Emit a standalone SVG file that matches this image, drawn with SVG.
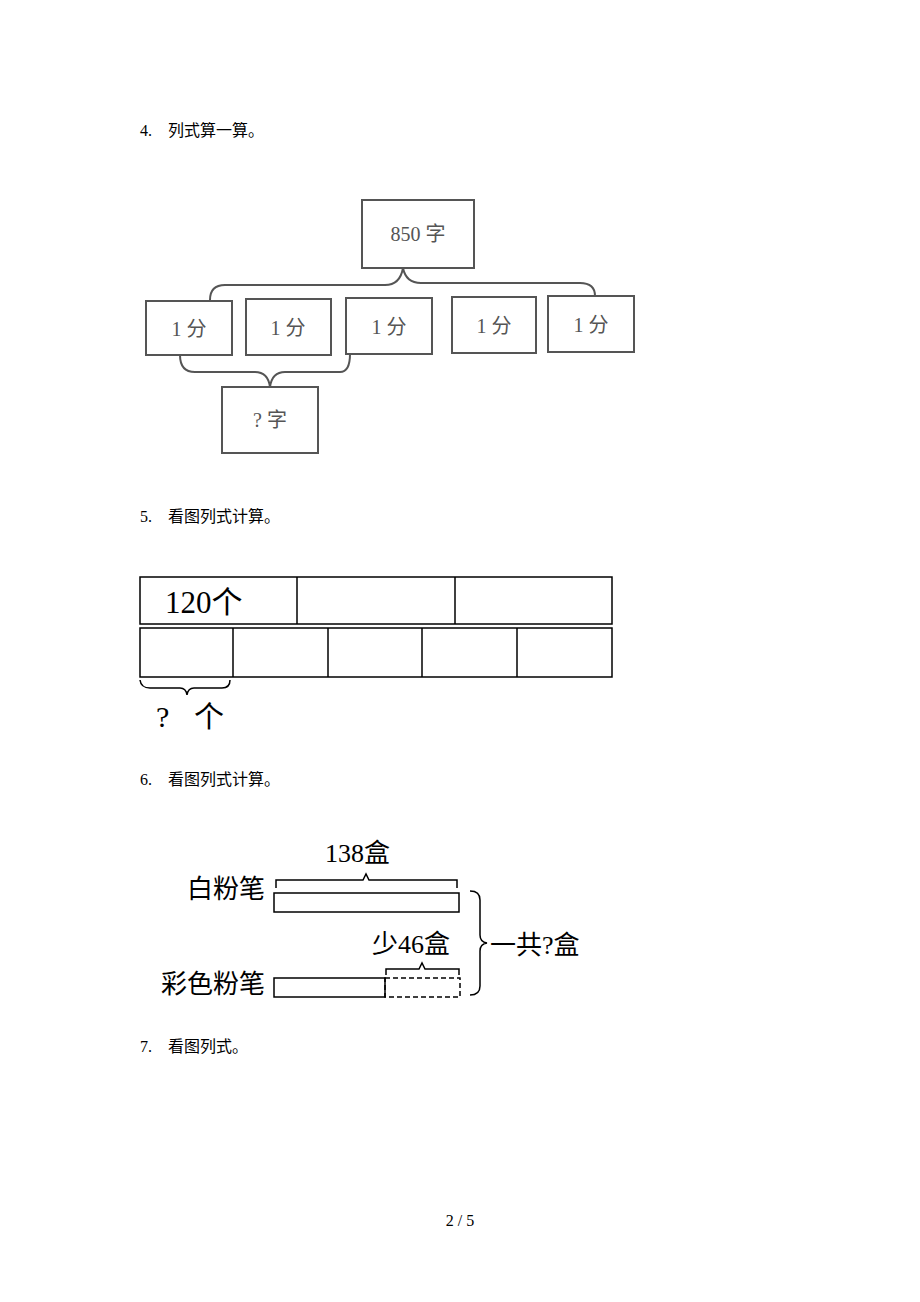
<svg xmlns="http://www.w3.org/2000/svg" width="920" height="1302" viewBox="0 0 920 1302">
<style>
.h{font-family:"Liberation Serif","Noto Sans CJK SC",serif;font-size:16px;fill:#000}
.b{fill:#fff;stroke:#555;stroke-width:2}
.t{font-family:"Liberation Serif","Noto Sans CJK SC",serif;font-size:20px;fill:#555;text-anchor:middle}
.k{fill:none;stroke:#000;stroke-width:1.5}
.g{fill:none;stroke:#555;stroke-width:2}
.s{font-family:"Liberation Serif","Noto Sans CJK SC",serif;fill:#000}
</style>
<rect width="920" height="1302" fill="#fff"/>
<text class="h" x="140" y="136">4.</text><text class="h" x="168" y="136">列式算一算。</text>
<text class="h" x="140" y="522">5.</text><text class="h" x="168" y="522">看图列式计算。</text>
<text class="h" x="140" y="785">6.</text><text class="h" x="168" y="785">看图列式计算。</text>
<text class="h" x="140" y="1052">7.</text><text class="h" x="168" y="1052">看图列式。</text>
<text class="h" x="460" y="1226" text-anchor="middle">2 / 5</text>
<g id="connectors">
<path class="g" d="M210,300 Q210,285 225,285 L385,285 Q400,285 403,268 Q406,283 421,283 L580,283 Q595,283 595,296"/>
<path class="g" d="M180,355 Q180,372 195,372 L255,372 Q268,372 270,387 Q272,372 285,372 L340,372 Q350,372 350,354"/>
</g>
<g id="n850"><rect class="b" x="362" y="200" width="112" height="68"/><text class="t" x="418" y="241">850 字</text></g>
<g id="f1"><rect class="b" x="146" y="301" width="86" height="54"/><text class="t" x="189" y="336">1 分</text></g>
<g id="f2"><rect class="b" x="246" y="299" width="85" height="56"/><text class="t" x="288" y="335">1 分</text></g>
<g id="f3"><rect class="b" x="346" y="298" width="86" height="56"/><text class="t" x="389" y="334">1 分</text></g>
<g id="f4"><rect class="b" x="452" y="297" width="84" height="56"/><text class="t" x="494" y="333">1 分</text></g>
<g id="f5"><rect class="b" x="548" y="296" width="86" height="56"/><text class="t" x="591" y="332">1 分</text></g>
<g id="q"><rect class="b" x="222" y="387" width="96" height="66"/><text class="t" x="270" y="427">? 字</text></g>
<g id="bars5">
<rect class="k" x="140" y="577" width="472" height="47" stroke-width="2"/>
<line class="k" x1="297" y1="577" x2="297" y2="624" stroke-width="2"/>
<line class="k" x1="455" y1="577" x2="455" y2="624" stroke-width="2"/>
<rect class="k" x="140" y="628" width="472" height="49" stroke-width="2"/>
<line class="k" x1="233" y1="628" x2="233" y2="677" stroke-width="2"/>
<line class="k" x1="328" y1="628" x2="328" y2="677" stroke-width="2"/>
<line class="k" x1="422" y1="628" x2="422" y2="677" stroke-width="2"/>
<line class="k" x1="517" y1="628" x2="517" y2="677" stroke-width="2"/>
<text class="s" x="165" y="613" font-size="31">120个</text>
<path class="k" d="M140,680 Q141,688 150,688 L180,688 Q186,688 187,695 Q188,688 194,688 L222,688 Q230,688 230,680"/>
<text class="s" x="156" y="727" font-size="30">?</text>
<text class="s" x="194" y="727" font-size="30">个</text>
</g>
<g id="bars6">
<text class="s" x="325" y="862" font-size="26">138盒</text>
<path class="k" d="M276,888 L276,880 L363,880 L366,874 L369,880 L457,880 L457,888"/>
<text class="s" x="265" y="898" font-size="26" text-anchor="end">白粉笔</text>
<rect class="k" x="274" y="893" width="185" height="19"/>
<text class="s" x="372" y="953" font-size="26">少46盒</text>
<path class="k" d="M386,975 L386,969 L419,969 L422,963 L425,969 L459,969 L459,975"/>
<text class="s" x="265" y="993" font-size="26" text-anchor="end">彩色粉笔</text>
<rect class="k" x="274" y="978" width="111" height="19"/>
<rect class="k" x="385" y="978" width="75" height="19" stroke-dasharray="5,3"/>
<path class="k" d="M470,891 Q480,891 480,900 L480,935 Q480,942 487,943 Q480,944 480,951 L480,986 Q480,995 470,995"/>
<text class="s" x="490" y="954" font-size="26">一共?盒</text>
</g>
</svg>
